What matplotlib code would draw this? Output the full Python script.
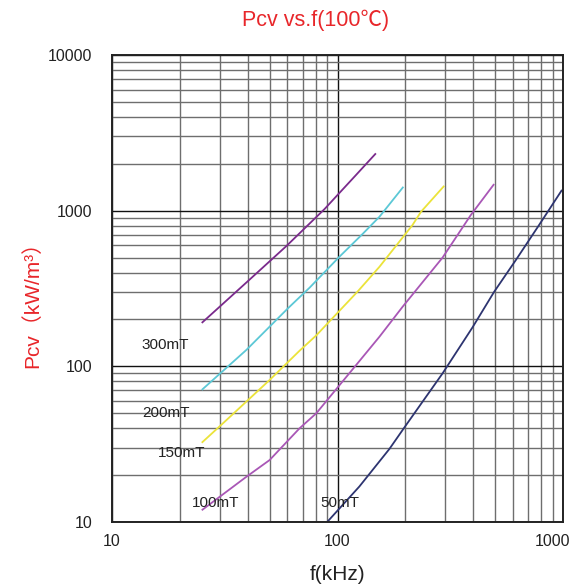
import matplotlib
matplotlib.use('Agg')
import matplotlib.pyplot as plt
import matplotlib.transforms as mtransforms
from matplotlib.ticker import LogLocator, NullFormatter, FixedLocator

plt.rcParams['font.family'] = ['Liberation Sans', 'Noto Sans CJK SC', 'DejaVu Sans']

# curves (f in kHz, Pcv in kW/m3)
f_300 = [25, 29.5, 40, 59.3, 87.6, 120, 148]
p_300 = [190, 236, 352, 592, 1024, 1677, 2334]

f_200 = [25, 39.4, 60.3, 75.2, 102, 129.4, 153.5, 196]
p_200 = [70.5, 127.3, 236, 320, 506, 710, 914, 1424]

f_150 = [25, 32.2, 50, 67.9, 80.5, 123, 153.5, 215, 234.6, 297.5]
p_150 = [32.3, 45.2, 81.7, 126, 158, 303, 436, 808, 984, 1445]

f_100 = [25, 39.4, 50, 67.9, 80.5, 121, 153.5, 194.5, 292.5, 390, 495]
p_100 = [11.9, 19.5, 25, 40, 49.9, 102, 155, 241.6, 500, 937, 1483]

f_50 = [90, 125, 170, 198, 292.5, 365, 397, 495, 618, 783, 990]
p_50 = [10, 16.9, 29.5, 40.5, 90.2, 147.6, 178, 301, 482, 808, 1360]

curves = [
    (f_300, p_300, '#7a2a8c'),
    (f_200, p_200, '#5cc8d6'),
    (f_150, p_150, '#ebe33a'),
    (f_100, p_100, '#a957b6'),
    (f_50, p_50, '#2d3470'),
]

labels = ['300mT', '200mT', '150mT', '100mT', '50mT']
label_x = [17.3, 17.3, 20.4, 28.8, 102]
label_y = [137, 49.9, 27.9, 13.2, 13.3]

red = '#e8262a'

fig = plt.figure(figsize=(5.71, 5.88), dpi=100)
ax = fig.add_axes([112 / 571, 66 / 588, 451 / 571, 467 / 588])

ax.set_xscale('log')
ax.set_yscale('log')
ax.set_xlim(10, 1000)
ax.set_ylim(10, 10000)

ax.xaxis.set_major_locator(FixedLocator([10, 100, 1000]))
ax.yaxis.set_major_locator(FixedLocator([10, 100, 1000, 10000]))
ax.xaxis.set_minor_locator(LogLocator(base=10, subs=range(2, 10)))
ax.yaxis.set_minor_locator(LogLocator(base=10, subs=range(2, 10)))
ax.xaxis.set_minor_formatter(NullFormatter())
ax.yaxis.set_minor_formatter(NullFormatter())
ax.set_xticklabels(['10', '100', '1000'])
ax.set_yticklabels(['10', '100', '1000', '10000'])

ax.grid(which='major', color='#111111', lw=1.0)
ax.grid(which='minor', color='#6e6e6e', lw=1.0)
ax.set_axisbelow(True)

ax.tick_params(which='both', length=0)
ax.tick_params(axis='y', pad=14, labelsize=11.5, colors='#222222')
ax.tick_params(axis='x', pad=9, labelsize=11.5, colors='#222222')

# keep "1000" inside the figure like the original
last = ax.get_xticklabels()[-1]
last.set_transform(last.get_transform() + mtransforms.ScaledTranslation(-10 / 100, 0, fig.dpi_scale_trans))

for sp in ax.spines.values():
    sp.set_color('#222222')
    sp.set_linewidth(1.4)

for fx, py, c in curves:
    ax.plot(fx, py, color=c, lw=1.3, solid_capstyle='butt')

for t, x, y in zip(labels, label_x, label_y):
    ax.text(x, y, t, ha='center', va='center', fontsize=11, color='#222222')

fig.text(316 / 571, 1 - 20 / 588, 'Pcv vs.f(100\u2103)', ha='center', va='center',
         fontsize=15.5, color=red)
fig.text(32 / 571, 1 - 300 / 588, 'Pcv\uff08kW/m\u00b3\uff09', ha='center', va='center',
         rotation=90, fontsize=15, color=red)
fig.text(338 / 571, 1 - 575 / 588, 'f(kHz)', ha='center', va='center',
         fontsize=15, color='#222222')

fig.savefig('out.png', dpi=100)
